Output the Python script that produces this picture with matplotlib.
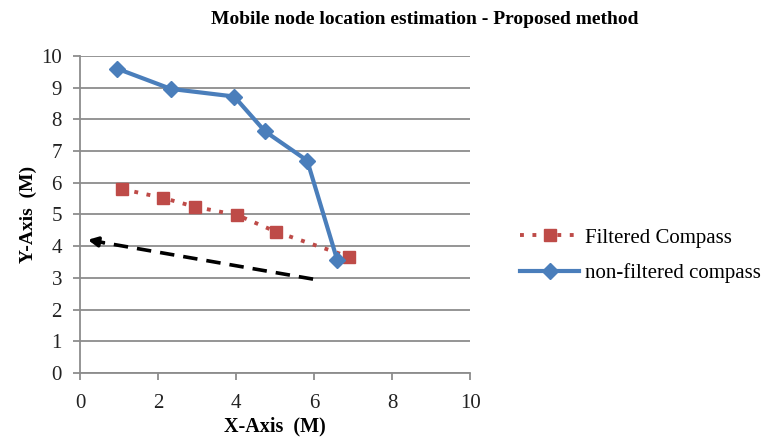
import matplotlib.pyplot as plt

plt.rcParams['font.family'] = ['Liberation Serif', 'DejaVu Serif']

# non-filtered compass (blue diamonds)
nf_x = [0.95, 2.33, 3.95, 4.74, 5.82, 6.59]
nf_y = [9.6, 8.96, 8.72, 7.62, 6.7, 3.56]

# filtered compass (red squares)
f_x = [1.08, 2.13, 2.95, 4.03, 5.03, 6.9]
f_y = [5.8, 5.52, 5.24, 4.98, 4.45, 3.66]

# dashed direction arrow: start, head base, tip
arrow_x = [5.97, 0.6, 0.2]
arrow_y = [2.96, 4.11, 4.2]

blue = '#4A7EBB'
red = '#BE4B48'
grid = '#8C8C8C'

fig = plt.figure(figsize=(7.73, 4.44), dpi=100)
ax = fig.add_axes([0.1035, 0.16, 0.505, 0.714])

ax.plot(f_x, f_y, color=red, linestyle=(0, (1, 2.2)), linewidth=2.8,
        marker='s', markersize=9, label='Filtered Compass', zorder=3)
ax.plot(nf_x, nf_y, color=blue, linewidth=3, marker='D', markersize=8,
        label='non-filtered compass', zorder=4)

# dashed shaft and a solid head
ax.plot(arrow_x[:2], arrow_y[:2], color='black', lw=2.6, linestyle=(0, (4, 2.5)), zorder=2)
ax.annotate('', xy=(arrow_x[2], arrow_y[2]), xytext=(arrow_x[1], arrow_y[1]),
            arrowprops=dict(arrowstyle='-|>', color='black', lw=2.6,
                            mutation_scale=14, shrinkA=0, shrinkB=0))

ax.set_xlim(0, 10)
ax.set_ylim(0, 10)
ax.set_xticks(range(0, 11, 2))
ax.set_yticks(range(0, 11, 1))
ax.grid(axis='y', color=grid, linewidth=1.3)
ax.set_axisbelow(True)
for s in ['top', 'right']:
    ax.spines[s].set_visible(False)
for s in ['left', 'bottom']:
    ax.spines[s].set_color(grid)
    ax.spines[s].set_linewidth(1.3)
ax.tick_params(colors=grid, labelcolor='#222222', labelsize=15, length=5, width=1.3)
ax.tick_params(axis='x', pad=10)
ax.tick_params(axis='y', pad=8)

ax.set_xlabel('X-Axis  (M)', fontsize=14.5, fontweight='bold', labelpad=3)
ax.set_ylabel('Y-Axis  (M)', fontsize=14, fontweight='bold', labelpad=3)
fig.suptitle('Mobile node location estimation - Proposed method', x=0.549, y=0.975,
             fontsize=14, fontweight='bold')

ax.legend(loc='center left', bbox_to_anchor=(1.08, 0.37), frameon=False,
          fontsize=15, handlelength=2.8, labelspacing=0.75, handletextpad=0.3)

fig.savefig('out.png', dpi=100)
